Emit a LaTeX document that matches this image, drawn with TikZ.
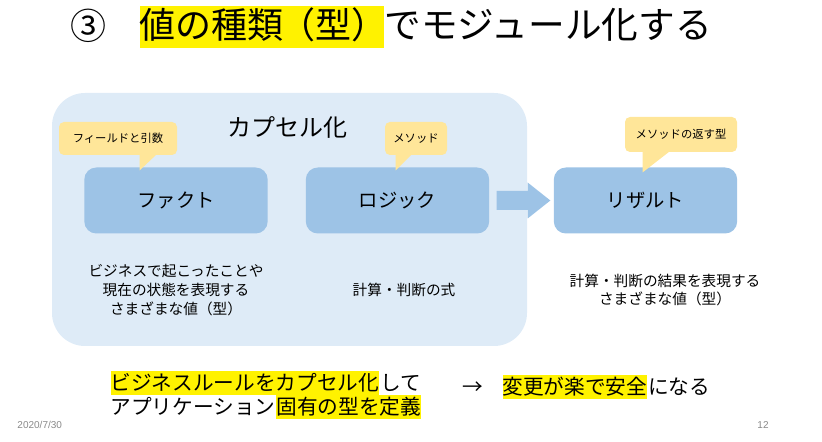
\documentclass[tikz,border=0pt]{standalone}
\usepackage{fontspec}
\setmainfont{Noto Sans CJK JP}
\newfontfamily\footfont{Liberation Sans}
\usetikzlibrary{positioning,calc}

\definecolor{capfill}{RGB}{222,235,247}
\definecolor{boxblue}{RGB}{157,195,230}
\definecolor{notefill}{RGB}{255,230,153}
\definecolor{footgray}{RGB}{137,137,137}

\tikzset{every picture/.style={line width=0.75pt}}
\tikzset{
  typebox/.style={fill=boxblue, rounded corners=9pt, inner sep=0pt, minimum width=137.5pt, minimum height=49.5pt, font=\fontsize{14.5}{16}\selectfont},
  notebox/.style={fill=notefill, rounded corners=3.75pt, inner sep=0pt, minimum height=24.75pt, font=\fontsize{8.5}{10}\selectfont},
  desc/.style={align=center, inner sep=0pt, font=\fontsize{11}{14}\selectfont},
  hl/.style={fill=yellow, inner xsep=0pt, inner ysep=0.5pt, text height=13.5pt, text depth=3pt, font=\fontsize{15.5}{18}\selectfont},
  plain/.style={inner xsep=0pt, inner ysep=0.5pt, text height=13.5pt, text depth=3pt, font=\fontsize{15.5}{18}\selectfont},
  foot/.style={text=footgray, inner sep=0pt, font=\footfont\fontsize{7.5}{9}\selectfont}
}

\begin{document}
\begin{tikzpicture}[x=0.75pt,y=0.75pt,yscale=-1,xscale=1]
\useasboundingbox (0,0) rectangle (822,442);

% Title
\node (num) at (88,26) {\fontsize{27}{30}\selectfont ③};
\node[hl, anchor=west, font=\fontsize{27}{30}\selectfont, text height=24pt, text depth=7pt] (ttlhl) at (139,27) {値の種類\kern-3pt（型）\kern-3pt};
\node[plain, right=0pt of ttlhl, font=\fontsize{27.5}{30}\selectfont, text height=24pt, text depth=7pt] (ttlrest) {でモジュール化する};

%Shape: Rounded Rect
\draw[draw=none, fill=capfill, rounded corners=24.75pt] (52,93) rectangle (527,346);
\node[font=\fontsize{18}{20}\selectfont] (captitle) at (287,127) {カプセル化};

%Shape: Rounded Rect
\node[typebox] (fact) at (176,200.5) {ファクト};
\node[typebox] (logic) at (397.5,200.5) {ロジック};
\node[typebox] (result) at (645.5,200.5) {リザルト};

%Shape: Callout
\node[notebox, minimum width=88.5pt] (fldnote) at (118,138.5) {フィールドと引数};
\fill[notefill] ($(fldnote.south west)+(81,-1)$) -- ++(17,0) -- ++(-17,16) -- cycle;
\node[notebox, minimum width=46.5pt] (mthnote) at (416,138.5) {メソッド};
\fill[notefill] ($(mthnote.south west)+(11,-1)$) -- ++(16,0) -- ++(-16,16) -- cycle;
\node[notebox, minimum width=84pt, minimum height=26.25pt] (retnote) at (681,134.5) {メソッドの返す型};
\fill[notefill] ($(retnote.south west)+(18,-1)$) -- ++(27,0) -- ++(-27,21) -- cycle;

%Shape: Right Arrow
\fill[boxblue] ($(logic.east)+(7,-9.5)$) -- ($(logic.east)+(38,-9.5)$) -- ($(logic.east)+(38,-18)$)
  -- ($(result.west)+(-3,0)$)
  -- ($(logic.east)+(38,18)$) -- ($(logic.east)+(38,9.5)$) -- ($(logic.east)+(7,9.5)$) -- cycle;

% Text Node
\node[desc] (factdesc) at (176,290) {ビジネスで起こったことや\\現在の状態を表現する\\さまざまな値（型）};
\node[desc] (logicdesc) at (404,290) {計算・判断の式};
\node[desc] (resdesc) at (665,290) {計算・判断の結果を表現する\\さまざまな値（型）};

% Text Node
\node[hl, anchor=west] (rule1) at (110,383) {ビジネスルールをカプセル化};
\node[plain, right=0pt of rule1] (rule1b) {して};
\node[plain, anchor=west] (rule2) at (110,407) {アプリケーション};
\node[hl, right=0pt of rule2] (rule2b) {固有の型を定義};
\node[plain] (to) at (473,387) {→};
\node[hl, anchor=west] (gain) at (502,387) {変更が楽で安全};
\node[plain, right=0pt of gain] (gainb) {になる};

% Footer
\node[foot, anchor=west] (date) at (17,425) {2020/7/30};
\node[foot] (page) at (763,425) {12};

\end{tikzpicture}
\end{document}
